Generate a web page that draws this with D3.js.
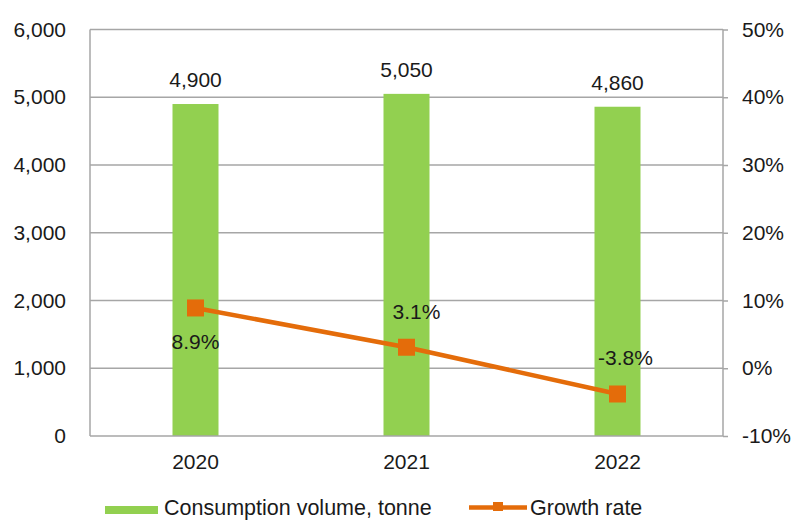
<!DOCTYPE html>
<html><head><meta charset="utf-8">
<script src="https://cdn.jsdelivr.net/npm/d3@7"></script>
<style>
body{margin:0;background:#fff;}
svg{display:block;font-family:"Liberation Sans",Arial,sans-serif;}
</style></head>
<body><svg id="c" width="793" height="520"></svg>
<script>
const years = ["2020", "2021", "2022"];
const consumption = [4900, 5050, 4860];
const growthRate = [8.9, 3.1, -3.8];
const leftTicks = [0, 1000, 2000, 3000, 4000, 5000, 6000];
const rightTicks = [-10, 0, 10, 20, 30, 40, 50];
const seriesNames = ["Consumption volume, tonne", "Growth rate"];

const svg = d3.select("#c");
const L = 90, R = 723, T = 29.5, B = 436;
const green = "#92d050", orange = "#e46c0a", grid = "#a6a6a6", txt = "#1a1a1a";
const fs = 21;

const xc = d3.scaleBand().domain(years).range([L, R]);
const yL = d3.scaleLinear().domain([0, 6000]).range([B, T]);
const yR = d3.scaleLinear().domain([-10, 50]).range([B, T]);

// gridlines
svg.append("g").selectAll("line").data(leftTicks.slice(1)).join("line")
  .attr("x1", L).attr("x2", R).attr("y1", d => yL(d)).attr("y2", d => yL(d))
  .attr("stroke", grid).attr("stroke-width", 1.3);

// bars
const bw = 46;
svg.append("g").selectAll("rect").data(consumption).join("rect")
  .attr("x", (d, i) => xc(years[i]) + xc.bandwidth() / 2 - bw / 2)
  .attr("width", bw)
  .attr("y", d => yL(d)).attr("height", d => B - yL(d))
  .attr("fill", green);

// axes lines
svg.append("line").attr("x1", L).attr("x2", L).attr("y1", T).attr("y2", B).attr("stroke", grid).attr("stroke-width", 1.5);
svg.append("line").attr("x1", L).attr("x2", R).attr("y1", B).attr("y2", B).attr("stroke", grid).attr("stroke-width", 1.5);
svg.append("line").attr("x1", R).attr("x2", R).attr("y1", T).attr("y2", B).attr("stroke", grid).attr("stroke-width", 1.5);

// left axis labels
const axL = d3.axisLeft(yL).tickValues(leftTicks).tickFormat(d3.format(",")).tickSize(0).tickPadding(24);
const gL = svg.append("g").attr("transform", `translate(${L},0)`).call(axL);
gL.select(".domain").remove();
gL.selectAll("text").attr("font-size", fs).attr("font-family", "Liberation Sans, Arial, sans-serif").attr("fill", txt);

// right axis
const axR = d3.axisRight(yR).tickValues(rightTicks).tickFormat(d => d + "%").tickSize(5).tickPadding(14);
const gR = svg.append("g").attr("transform", `translate(${R},0)`).call(axR);
gR.select(".domain").remove();
gR.selectAll("line").attr("stroke", grid).attr("stroke-width", 1.5);
gR.selectAll("text").attr("font-size", fs).attr("font-family", "Liberation Sans, Arial, sans-serif").attr("fill", txt);

// bottom axis
const axB = d3.axisBottom(xc).tickSize(0).tickPadding(18);
const gB = svg.append("g").attr("transform", `translate(0,${B})`).call(axB);
gB.select(".domain").remove();
gB.selectAll("text").attr("font-size", fs).attr("font-family", "Liberation Sans, Arial, sans-serif").attr("fill", txt);

// bar labels
svg.append("g").selectAll("text").data(consumption).join("text")
  .attr("x", (d, i) => xc(years[i]) + xc.bandwidth() / 2)
  .attr("y", d => yL(d) - 17)
  .attr("text-anchor", "middle").attr("font-size", fs).attr("fill", txt)
  .text(d3.format(","));

// line
const cx = (i) => xc(years[i]) + xc.bandwidth() / 2;
const line = d3.line().x((d, i) => cx(i)).y(d => yR(d));
svg.append("path").datum(growthRate).attr("d", line)
  .attr("fill", "none").attr("stroke", orange).attr("stroke-width", 4.5);
const ms = 17;
svg.append("g").selectAll("rect").data(growthRate).join("rect")
  .attr("x", (d, i) => cx(i) - ms / 2).attr("y", d => yR(d) - ms / 2)
  .attr("width", ms).attr("height", ms).attr("fill", orange);

// growth labels (placement: below for first, above for others)
const lblDx = [0, 10, 8];
const lblDy = [41, -28, -29];
svg.append("g").selectAll("text").data(growthRate).join("text")
  .attr("x", (d, i) => cx(i) + lblDx[i])
  .attr("y", (d, i) => yR(d) + lblDy[i])
  .attr("text-anchor", "middle").attr("font-size", fs).attr("fill", txt)
  .text(d => d.toFixed(1) + "%");

// legend
const lg = svg.append("g");
lg.append("rect").attr("x", 105).attr("y", 506).attr("width", 53).attr("height", 8).attr("fill", green);
lg.append("text").attr("x", 164).attr("y", 515).attr("font-size", 21.5).attr("fill", txt).text(seriesNames[0]);
lg.append("line").attr("x1", 469).attr("x2", 527).attr("y1", 507.5).attr("y2", 507.5).attr("stroke", orange).attr("stroke-width", 4.5);
lg.append("rect").attr("x", 493).attr("y", 502).attr("width", 10).attr("height", 9).attr("fill", orange);
lg.append("text").attr("x", 530).attr("y", 515).attr("font-size", 21.5).attr("fill", txt).text(seriesNames[1]);
</script></body></html>
